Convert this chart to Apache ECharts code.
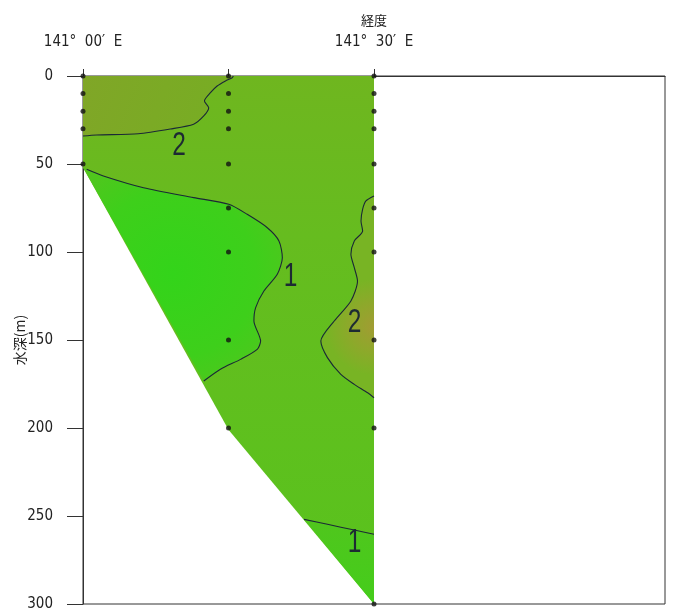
<!DOCTYPE html>
<html>
<head>
<meta charset="utf-8">
<script src="https://cdn.jsdelivr.net/npm/echarts@6/dist/echarts.min.js"></script>
<style>
html,body{margin:0;padding:0;background:#fff;}
#chart{width:675px;height:608px;}
</style>
</head>
<body>
<div id="chart"></div>
<script>
// ---- axes ----
const lonTickValues = [0, 15, 30];               // minutes east of 141°E (station positions)
const lonLabelValues = [0, 30];
const lonLabelTexts = ['141°  00′  E', '141°  30′  E'];
const depthTicks = [0, 50, 100, 150, 200, 250, 300];

// ---- stations (lon in minutes, sampling depths in m) ----
const stationLon = [0, 15, 30];
const st1Depths = [0, 10, 20, 30, 50];
const st2Depths = [0, 10, 20, 30, 50, 75, 100, 150, 200];
const st3Depths = [0, 10, 20, 30, 50, 75, 100, 150, 200, 300];

// ---- section outline (sea bottom) ----
const sectionOutline = [[0, 0], [30, 0], [30, 300], [15, 201], [0, 52]];

// ---- contour lines ----
const contour2Left = [[0, 34.1], [1.4, 33.5], [5.7, 32.8], [9.0, 30.1], [11.4, 27.4], [12.45, 22.7],
  [12.96, 18.0], [12.52, 14.2], [13.14, 9.5], [13.83, 5.7], [14.69, 2.8], [15.38, 1.0], [15.5, 0]];
const contour1Mid = [[0.38, 53.0], [2.1, 56.8], [6.24, 63.5], [11.41, 69.1], [15.03, 72.9], [16.93, 78.6],
  [19.0, 86.2], [20.2, 93.7], [20.55, 103.2], [20.03, 112.7], [18.65, 122.2], [17.8, 131.6], [17.62, 139.2],
  [18.31, 150.6], [17.96, 155.3], [16.24, 161.0], [14.17, 166.6], [12.45, 173.3]];
const contour2Right = [[30.0, 68.2], [29.17, 71.0], [28.83, 75.7], [28.66, 82.4], [28.83, 88.1], [27.97, 93.7],
  [27.62, 101.3], [27.97, 108.9], [28.3, 116.5], [27.62, 127.8], [25.9, 139.2], [24.52, 150.6], [25.2, 160.0],
  [26.58, 169.5], [27.97, 175.2], [29.35, 180.0], [30.0, 182.8]];
const contour1Bottom = [[22.79, 251.9], [25.2, 254.7], [27.97, 258.0], [30.0, 260.4]];

// ---- contour labels ----
const contourLabelPos = [[9.9, 39.5], [21.4, 114.0], [28.0, 140.2], [28.0, 265.2]];
const contourLabelText = ['2', '1', '2', '1'];

// ---- region polygons built from the contours ----
const regionOliveTop = [[0, 0]].concat(contour2Left);
const regionBrightLeft = [[0, 52]].concat(contour1Mid);
const regionOliveRight = contour2Right.slice();
const regionBrightBottom = contour1Bottom.concat([[30, 300]]);

const narrow = "'Liberation Sans Narrow', 'Arial Narrow', 'DejaVu Sans Condensed', sans-serif";

function polySeries(points, fill, z) {
  return {
    type: 'custom',
    coordinateSystem: 'cartesian2d',
    silent: true,
    z: z,
    data: [[0, 0]],
    renderItem: function (params, api) {
      return {
        type: 'polygon',
        shape: { points: points.map(function (p) { return api.coord(p); }) },
        style: { fill: fill, stroke: null }
      };
    }
  };
}
function contourSeries(points) {
  return {
    type: 'line',
    data: points,
    showSymbol: false,
    symbol: 'none',
    smooth: 0.25,
    silent: true,
    z: 5,
    lineStyle: { color: '#1b2836', width: 1.1 }
  };
}

const stationData = []
  .concat(st1Depths.map(function (d) { return [stationLon[0], d]; }))
  .concat(st2Depths.map(function (d) { return [stationLon[1], d]; }))
  .concat(st3Depths.map(function (d) { return [stationLon[2], d]; }));

const chart = echarts.init(document.getElementById('chart'), null, { renderer: 'canvas' });
chart.setOption({
  animation: false,
  backgroundColor: '#ffffff',
  grid: { left: 83, right: 10, top: 76, bottom: 4, outerBoundsMode: 'none', containLabel: false,
    show: true, borderColor: '#333', borderWidth: 1, backgroundColor: 'transparent' },
  xAxis: {
    type: 'value', position: 'top', min: 0, max: 60,
    name: '経度', nameLocation: 'middle', nameGap: 49, nameMoveOverlap: false,
    nameTextStyle: { fontSize: 13, color: '#222', fontFamily: "'Noto Sans CJK JP', sans-serif" },
    splitLine: { show: false },
    axisLine: { show: true, lineStyle: { color: '#333', width: 1 } },
    axisTick: { show: true, customValues: lonTickValues, length: 7, lineStyle: { color: '#333' } },
    axisLabel: {
      show: true, customValues: lonLabelValues, margin: 26,
      fontSize: 15, color: '#222', fontFamily: narrow,
      formatter: function (v) { const i = lonLabelValues.indexOf(v); return i >= 0 ? lonLabelTexts[i] : ''; }
    }
  },
  yAxis: {
    type: 'value', inverse: true, min: 0, max: 300, interval: 50,
    name: '水深(m)', nameLocation: 'middle', nameGap: 56, nameRotate: 90, nameMoveOverlap: false,
    nameTextStyle: { fontSize: 14, color: '#222', fontFamily: "'Noto Sans CJK JP', sans-serif" },
    splitLine: { show: false },
    axisLine: { show: true, lineStyle: { color: '#333', width: 1 } },
    axisTick: { show: true, length: 16, lineStyle: { color: '#333' } },
    axisLabel: { margin: 30, fontSize: 15, color: '#222', fontFamily: narrow,
      customValues: depthTicks }
  },
  series: [
    polySeries(sectionOutline, { type: 'linear', x: 0, y: 0, x2: 0, y2: 1,
      colorStops: [{ offset: 0, color: '#6fb61f' }, { offset: 0.3, color: '#66bc1f' }, { offset: 1, color: '#58c31d' }] }, 1),
    polySeries(regionOliveTop, { type: 'linear', x: 0, y: 0, x2: 1, y2: 1,
      colorStops: [{ offset: 0, color: '#80a627' }, { offset: 1, color: '#76ae23' }] }, 2),
    polySeries(regionBrightLeft, { type: 'radial', x: 0.45, y: 0.5, r: 0.7,
      colorStops: [{ offset: 0, color: '#33d41a' }, { offset: 0.6, color: '#3ecf1b' }, { offset: 1, color: '#55c41e' }] }, 2),
    polySeries(regionOliveRight, { type: 'radial', x: 1, y: 0.65, r: 0.9,
      colorStops: [{ offset: 0, color: '#a19c33' }, { offset: 0.5, color: '#8ea82b' }, { offset: 1, color: '#78b424' }] }, 2),
    polySeries(regionBrightBottom, { type: 'linear', x: 0, y: 0, x2: 0, y2: 1,
      colorStops: [{ offset: 0, color: '#50c61d' }, { offset: 1, color: '#44cd1b' }] }, 2),
    contourSeries(contour2Left),
    contourSeries(contour1Mid),
    contourSeries(contour2Right),
    contourSeries(contour1Bottom),
    {
      type: 'scatter', data: stationData, symbolSize: 5, z: 6, silent: true,
      itemStyle: { color: '#111' }
    },
    {
      type: 'custom', coordinateSystem: 'cartesian2d', z: 7, silent: true,
      data: contourLabelPos.map(function (p, i) { return [p[0], p[1], contourLabelText[i]]; }),
      renderItem: function (params, api) {
        const pt = api.coord([api.value(0), api.value(1)]);
        return {
          type: 'text', x: pt[0], y: pt[1], scaleX: 0.72,
          style: {
            text: contourLabelText[params.dataIndex], fontSize: 34, fontFamily: "'Liberation Sans', Arial, sans-serif",
            fill: '#1d2a33', align: 'center', verticalAlign: 'middle'
          }
        };
      }
    }
  ]
});
</script>
</body>
</html>
